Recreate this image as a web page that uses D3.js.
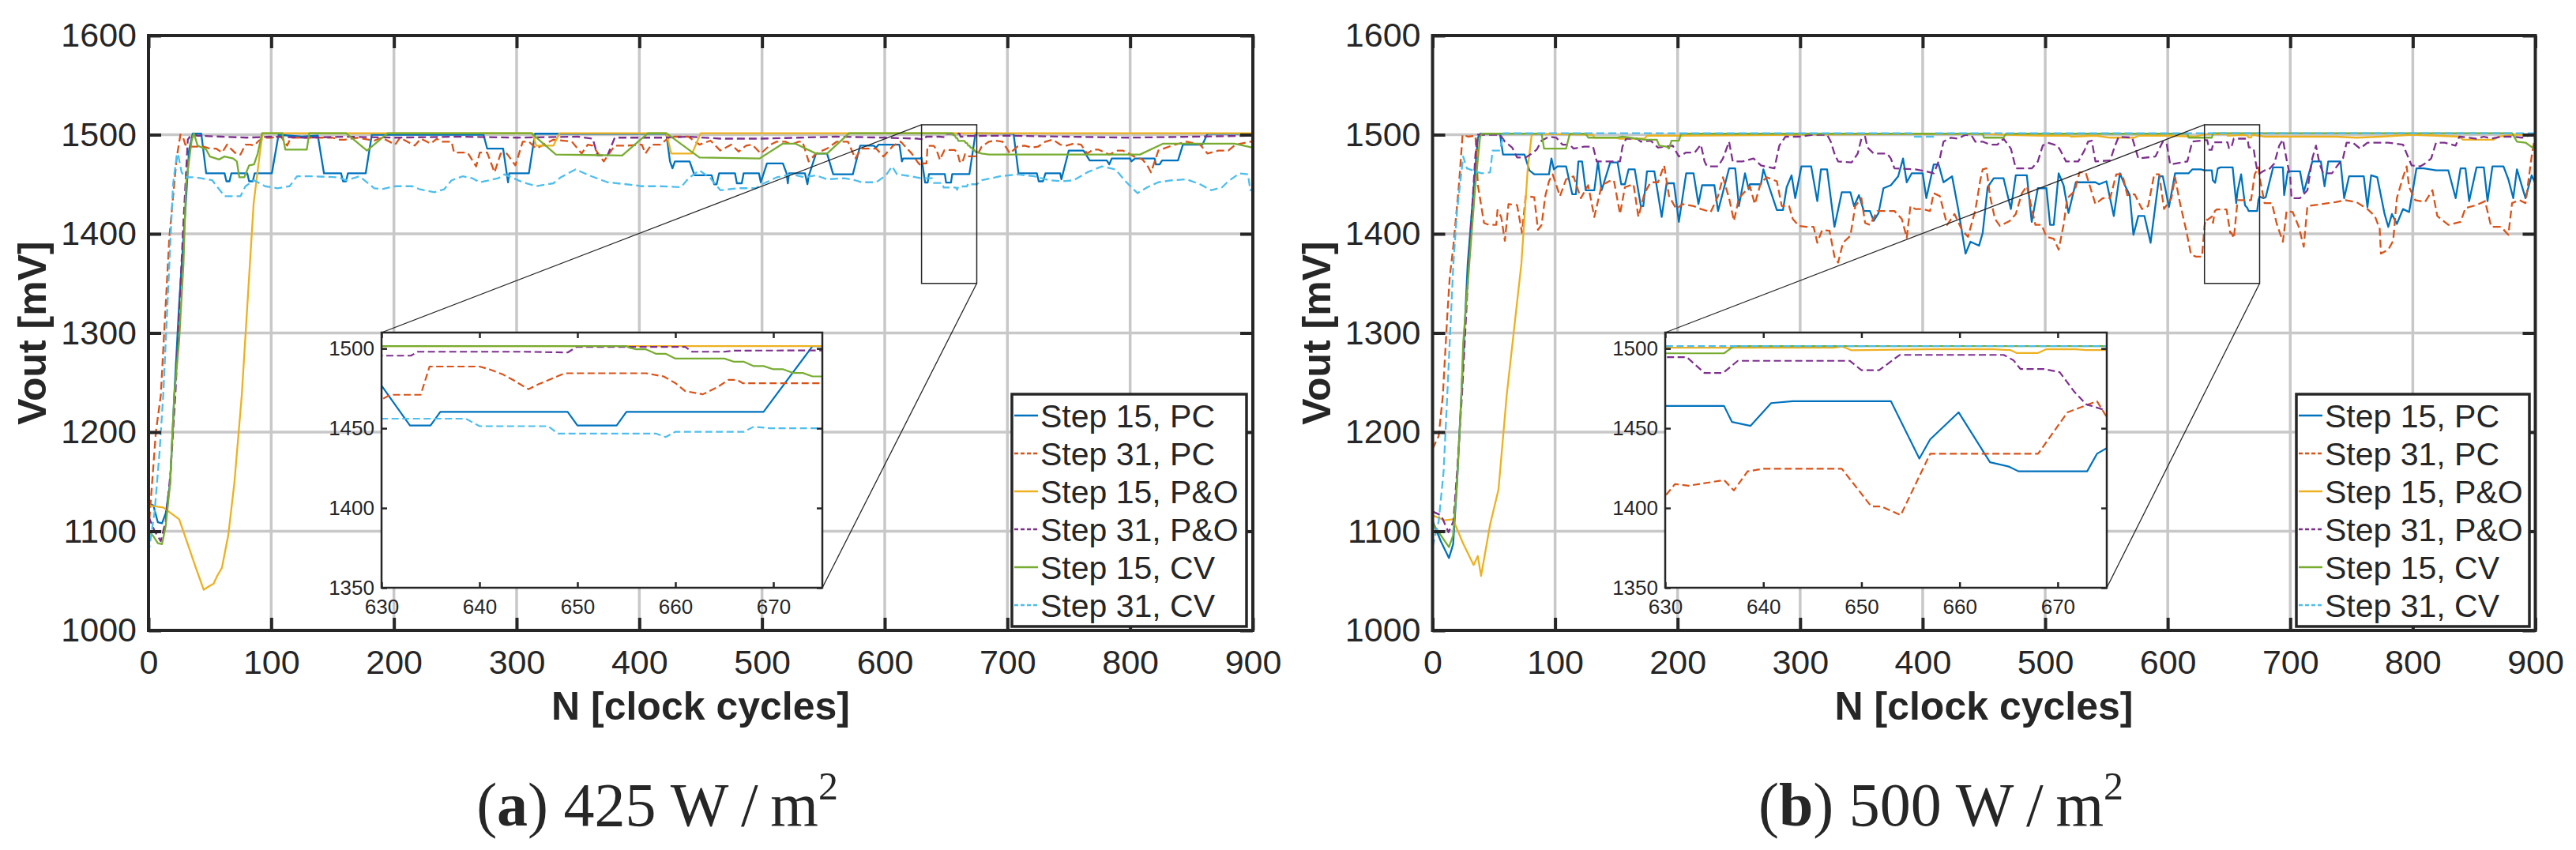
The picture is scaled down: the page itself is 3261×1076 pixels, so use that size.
<!DOCTYPE html>
<html>
<head>
<meta charset="utf-8">
<script src="https://cdn.jsdelivr.net/npm/d3@7"></script>
<style>
  body { margin: 0; background: #fff; }
  svg text { font-family: "Liberation Sans", Arial, Helvetica, sans-serif; fill: #262626; }
</style>
</head>
<body>
<svg id="fig" width="3261" height="1076"></svg>
<script>
// ---- data: [N clock cycles, Vout mV] ----

// (a) 425 W/m2
var pc15a = [[0,1128],[4,1126],[7.6,1109],[11,1108],[14,1118],[17.6,1148],[21,1237],[25,1330],[30,1423],[33,1484],[36,1501],[43,1501],[47,1461],[62,1461],[63.5,1453],[66,1453],[67.5,1461],[80.5,1461],[82,1453],[85,1453],[86.5,1461],[100.5,1461],[106,1500],[115,1499],[125,1498],[138,1499],[143,1461],[157,1461],[158.5,1453],[161,1453],[162.5,1461],[177,1461],[182,1500],[273,1500],[276,1486],[289,1486],[293,1452],[294,1461],[310,1461],[315,1501],[422,1501],[425,1473],[427,1466],[429,1473],[441,1473],[445,1459],[459,1459],[461,1450],[463,1450],[465,1461],[478,1461],[479.5,1451],[483.5,1451],[485,1461],[497.5,1461],[499,1452],[504,1471],[517,1471],[520,1461],[521,1451],[522,1461],[535,1461],[537,1450],[538,1458],[544,1481],[553,1481],[558,1460],[574,1460],[580,1489],[591,1489],[593,1487],[595,1490],[612,1490],[614,1473],[615,1476],[629,1476],[630,1476.7],[632.9,1451.7],[635,1451.7],[636,1460.3],[649,1460.3],[650,1451.7],[654,1451.7],[655,1460.3],[669,1460.3],[674,1501.5],[705,1501],[709,1461],[724,1461],[725.5,1453],[729,1453],[731,1461],[743,1461],[744,1455],[750,1484],[762,1484],[767,1474],[781,1474],[783,1470],[785,1476],[800,1476],[801,1473],[804,1476],[820,1476],[821,1470],[824,1470],[826,1474],[839,1474],[843,1490],[859,1490],[863,1501],[900,1501]];
var pc31a = [[0,1100],[3,1150],[6,1200],[10,1237],[17,1397],[23,1477],[26,1500],[28,1498],[30,1490],[35,1488],[45,1488],[50,1486],[55,1486],[60,1482],[64,1490],[67,1486],[72,1480],[75,1480],[79,1490],[83,1490],[86,1489],[90,1494],[95,1497],[100,1497],[108,1498],[113,1489],[116,1497],[130,1497],[150,1497],[155,1495],[160,1495],[170,1497],[184,1494],[190,1497],[201,1490],[205,1497],[217,1489],[222,1496],[230,1491],[235,1496],[238,1493],[247,1493],[249,1482],[260,1482],[267,1468],[270,1482],[276,1482],[282,1462],[287,1481],[292,1481],[299,1469],[305,1493],[310,1493],[316,1486],[322,1490],[330,1495],[338,1494],[345,1493],[353,1481],[358,1490],[362,1489],[371,1473],[376,1482],[380,1489],[390,1489],[402,1490],[405,1481],[410,1490],[417,1490],[425,1498],[440,1498],[449,1490],[458,1494],[466,1484],[475,1490],[481,1483],[487,1489],[492,1490],[499,1481],[507,1490],[512,1493],[519,1493],[524,1490],[530,1493],[533,1493],[538,1473],[544,1481],[553,1486],[561,1493],[570,1493],[576,1476],[581,1486],[593,1486],[599,1478],[607,1489],[613,1493],[622,1481],[627,1472],[630,1468],[630.9,1471],[634,1471],[634.9,1488.7],[640,1488.7],[641,1487],[642.4,1483.7],[643.5,1480],[645,1474.5],[646,1477.5],[647.6,1481.7],[648.7,1484.5],[657,1484.5],[658.8,1482.5],[660,1478.3],[661,1473.3],[662.8,1471.3],[664.3,1475.8],[665.4,1480.3],[666.3,1480.3],[666.9,1478.2],[675,1478.2],[679,1488],[685,1493],[690,1494],[696,1493],[702,1481],[708,1488],[714,1489],[720,1487],[725,1488],[731,1493],[737,1495],[743,1490],[748,1489],[754,1491],[760,1490],[765,1481],[770,1485],[774,1485],[783,1480],[790,1484],[794,1484],[799,1481],[803,1478],[810,1475],[814,1469],[817,1462],[823,1484],[834,1489],[846,1493],[857,1490],[863,1481],[872,1484],[880,1484],[886,1490],[898,1493],[900,1493]];
var po15a = [[0,1126],[12,1124],[25,1112],[32,1087],[38.6,1063],[45,1041],[50,1045],[53,1047],[56,1055],[59.8,1063],[65,1096],[70,1149],[76,1237],[85.7,1431],[90.8,1482],[93,1501.5],[313,1501.5],[316,1489],[330,1489],[335,1501.5],[422,1501.5],[426,1481],[443,1481],[450,1501.5],[900,1501.5]];
var po31a = [[0,1115],[5,1100],[10,1090],[14,1110],[18,1160],[22,1240],[28,1400],[32,1495],[35,1500],[40,1499],[60,1498],[80,1497],[100,1498],[130,1497],[160,1498],[200,1497],[250,1498],[300,1497],[350,1498],[362,1496],[366,1479],[374,1479],[380,1497],[420,1497],[440,1498],[466,1496],[499,1496],[530,1497],[560,1498],[600,1497],[627,1496],[630,1495.5],[633,1495.5],[633.7,1498],[644.4,1498],[649,1497.5],[649.9,1501],[661,1501],[661.7,1498],[665,1498],[666,1498.7],[700,1499],[750,1498],[800,1497],[850,1498],[900,1499]];
var cv15a = [[0,1100],[4,1095],[7.6,1088],[11,1087],[14,1105],[17.6,1148],[21,1237],[25,1293],[28.5,1370],[30.6,1450],[35,1493],[37,1501.5],[40,1489],[47,1485],[50,1478],[57.5,1475],[62,1478],[69,1476],[72,1473],[74,1457],[78,1457],[82,1469],[86,1470],[89,1481],[92.5,1501.5],[109,1501.5],[111.5,1485],[129,1485],[131,1501.5],[161,1501.5],[178,1484],[195,1501.5],[312,1501.5],[332,1480],[386,1479],[407,1501.5],[422,1501.5],[449,1477],[498,1476],[517,1491],[527,1491],[544,1481],[553,1481],[571,1501.5],[655,1501.5],[655.3,1500.5],[656,1499.5],[657,1499.5],[658,1496.7],[659,1496.7],[660,1493.7],[665,1493.7],[666,1491.7],[667,1491.7],[668,1489],[669,1489],[670,1487],[671,1487],[672,1484.7],[673,1484.7],[674,1482.5],[675,1482.5],[679,1481],[685,1480],[808,1480],[827,1491],[885,1491],[900,1487]];
var cv31a = [[0,1078],[5,1120],[9,1180],[12,1237],[17,1370],[20,1450],[23,1479],[24,1481],[27,1462],[30,1457],[38,1457],[43,1456],[52,1454],[55,1449],[62,1438],[75,1438],[79,1448],[86,1454],[95,1448],[105,1446],[115,1448],[121,1458],[135,1458],[155,1457],[161,1454],[172,1458],[184,1446],[190,1445],[201,1448],[215,1448],[221,1445],[233,1442],[241,1445],[247,1454],[256,1458],[264,1456],[270,1452],[285,1456],[290,1460],[305,1452],[316,1448],[330,1451],[336,1457],[348,1465],[359,1459],[374,1452],[397,1449],[402,1448],[417,1448],[434,1447],[440,1456],[449,1464],[458,1456],[466,1444],[481,1446],[495,1446],[500,1450],[512,1457],[524,1460],[535,1457],[544,1459],[553,1455],[567,1456],[576,1454],[581,1452],[593,1452],[601,1459],[606,1468],[610,1460],[622,1458],[630,1456],[638.6,1456],[640,1451.3],[647,1451.3],[648,1446.7],[658,1446.7],[659,1444.5],[660,1447.8],[667,1447.8],[668,1451],[669.7,1450],[675,1450],[679,1454],[694,1458],[708,1460],[722,1458],[734,1454],[745,1453],[754,1454],[765,1462],[777,1468],[788,1465],[797,1452],[806,1441],[814,1447],[823,1452],[834,1454],[846,1455],[857,1450],[866,1444],[875,1447],[880,1453],[889,1461],[896,1460],[898,1444],[900,1446]];

// (b) 500 W/m2
var pc15b = [[0,1110.5],[6.7,1090],[13.4,1073],[16.8,1087],[20,1149],[23.5,1237],[28.7,1370],[33.8,1450],[37,1497],[39,1501],[55,1501],[57.5,1480],[75,1480],[79,1464],[83,1460],[95,1460],[97,1476],[99,1465],[102,1468],[109,1468],[114,1440],[117,1440],[119,1473],[122,1473],[125,1444],[132,1444],[135,1473],[138,1444],[145,1472],[151,1472],[154,1450],[157,1450],[160,1465],[165,1465],[170,1428],[172,1428],[175,1463],[181,1463],[187,1417],[191,1451],[197,1451],[201,1412],[207,1461],[213,1461],[217,1430],[220,1449],[230,1449],[233,1423],[242,1466],[247,1466],[250,1428],[255,1461],[258,1445],[259,1450],[268,1450],[270,1465],[274,1450],[281,1424],[286,1424],[289,1447],[293,1459],[296,1436],[301,1468],[309,1468],[314,1433],[317,1465],[322,1465],[328,1407],[334,1442],[341,1442],[344,1428],[348,1439],[352,1423],[357,1423],[360,1413],[364,1421],[368,1446],[374,1449],[380,1458],[384,1476],[387,1452],[391,1461],[400,1461],[403,1436],[409,1470],[413,1470],[417,1452],[424,1458],[429,1425],[435,1380],[439,1392],[446,1388],[449,1401],[451,1424],[453,1447],[458,1456],[466,1456],[472,1425],[476,1459],[485,1459],[489,1412],[494,1446],[501,1446],[504,1409],[507,1409],[511,1461],[515,1449],[519,1421],[525,1452],[541,1452],[544,1450],[550,1453],[556,1418],[561,1461],[565,1449],[569,1439],[572,1399],[576,1418],[581,1418],[586,1391],[593,1458],[596,1458],[601,1427],[606,1461],[617,1461],[620,1465],[627,1465],[630,1464],[636,1464],[636.8,1454],[638.7,1451.5],[640.8,1465.8],[643,1467],[653,1467],[655.9,1431],[657,1443],[659.9,1460],[663.1,1428.7],[665,1426],[666,1423],[673,1423],[674,1434],[675,1437.6],[678,1436],[680,1437],[686,1467],[694,1467],[695,1439],[698,1463],[708,1463],[711,1442],[718,1473],[725,1473],[728,1448],[731,1473],[741,1473],[744,1436],[748,1458],[760,1458],[763,1427],[766,1459],[771,1457],[777,1420],[780,1407],[783,1420],[787,1410],[792,1425],[797,1422],[803,1466],[809,1466],[819,1464],[829,1464],[835,1436],[839,1466],[843,1466],[846,1433],[852,1467],[858,1467],[861,1433],[865,1468],[874,1468],[878,1455],[882,1436],[885,1465],[892,1436],[897,1459],[900,1451]];
var pc31b = [[0,1183],[5,1196],[8.4,1237],[12,1317],[14,1356],[17,1388],[21.5,1449],[24.5,1500],[29,1498],[35,1499],[37,1449],[42,1411],[46,1409],[52,1409],[53,1424],[56,1417],[59,1393],[62,1430],[69,1429],[73,1401],[76,1438],[83,1437],[86,1404],[89,1409],[92,1438],[95,1453],[98,1460],[104,1438],[109,1455],[115,1458],[121,1436],[127,1449],[132,1417],[138,1449],[144,1453],[148,1454],[153,1420],[157,1447],[164,1450],[168,1417],[173,1441],[178,1452],[184,1452],[189,1469],[193,1438],[199,1425],[204,1430],[213,1428],[219,1425],[227,1422],[233,1438],[237,1457],[242,1436],[246,1413],[250,1436],[259,1448],[263,1430],[268,1452],[273,1457],[281,1453],[285,1428],[291,1428],[294,1415],[299,1408],[305,1407],[311,1407],[314,1391],[318,1404],[324,1403],[328,1377],[331,1371],[335,1391],[341,1398],[345,1428],[350,1436],[353,1411],[357,1409],[363,1423],[368,1423],[377,1423],[383,1415],[387,1396],[390,1428],[394,1425],[400,1425],[406,1423],[409,1441],[414,1438],[420,1409],[426,1420],[432,1404],[437,1397],[443,1424],[447,1454],[449,1465],[452,1466],[455,1438],[459,1415],[463,1408],[471,1413],[476,1420],[481,1441],[485,1448],[492,1409],[497,1409],[501,1397],[507,1395],[511,1384],[515,1409],[518,1436],[524,1443],[528,1462],[533,1462],[537,1446],[541,1430],[547,1436],[553,1436],[558,1460],[563,1460],[567,1439],[573,1440],[579,1425],[584,1428],[589,1460],[593,1460],[597,1425],[603,1436],[606,1457],[610,1431],[615,1404],[619,1379],[623,1377],[628,1377],[630,1407.5],[631,1415],[632.4,1414],[636,1417.5],[637,1411],[638.4,1423],[640,1424.6],[648,1424.6],[651,1401],[652,1401],[654,1395.5],[657,1434],[668,1434],[671,1460],[674,1467],[675,1457],[679,1431],[685,1431],[689,1410],[694,1392],[697,1423],[702,1422],[707,1407],[711,1387],[714,1428],[720,1429],[731,1431],[737,1432],[745,1434],[754,1432],[763,1425],[769,1418],[773,1405],[774,1380],[780,1384],[784,1393],[787,1436],[792,1457],[795,1468],[797,1447],[802,1434],[810,1432],[816,1444],[820,1418],[829,1409],[839,1412],[843,1426],[852,1429],[859,1433],[864,1407],[872,1407],[878,1399],[881,1431],[887,1434],[892,1431],[897,1478],[900,1500]];
var po15b = [[0,1116],[10,1111],[16.7,1112],[24.8,1088],[33.5,1066],[36.9,1075],[39.6,1055],[47,1107],[53.8,1142],[60.5,1237],[72.5,1370],[77.7,1466],[81,1501],[131,1500],[132,1497],[150,1497],[152,1496],[173,1496],[175,1499],[201,1499],[296,1500],[449,1501],[466,1500],[498,1499],[520,1499],[521,1498],[541,1499],[553,1497],[573,1497],[576,1499],[599,1499],[622,1498],[630,1500.5],[647.2,1500.5],[648,1501.3],[649,1498.9],[656.8,1499.5],[663.5,1499.5],[665.2,1499],[665.8,1497.2],[668,1497.2],[668.8,1499.5],[671.8,1499.5],[672.9,1499],[675,1499],[679,1498],[737,1498],[754,1497],[774,1498],[800,1500],[838,1498],[841,1495],[866,1495],[870,1498],[882,1500],[900,1500]];
var po31b = [[0,1120],[7,1116],[13,1099],[17,1110],[20,1160],[24,1237],[30,1380],[35,1480],[37,1500],[55,1500],[59,1493],[65,1487],[69,1477],[76,1477],[81,1481],[85,1485],[89,1494],[95,1498],[101,1497],[106,1490],[112,1490],[115,1486],[124,1488],[131,1488],[134,1473],[153,1473],[155,1488],[158,1496],[167,1496],[170,1493],[178,1494],[184,1487],[196,1489],[201,1478],[207,1482],[214,1482],[219,1490],[222,1473],[224,1468],[233,1468],[237,1476],[242,1493],[245,1473],[253,1473],[262,1476],[268,1469],[279,1466],[283,1489],[288,1498],[299,1498],[311,1500],[322,1500],[325,1493],[328,1481],[331,1473],[342,1472],[347,1481],[350,1496],[353,1498],[355,1487],[360,1481],[371,1481],[374,1476],[377,1466],[394,1465],[403,1463],[409,1461],[414,1476],[417,1493],[423,1497],[429,1496],[435,1500],[440,1499],[443,1493],[449,1493],[455,1490],[461,1490],[466,1496],[472,1486],[476,1466],[489,1466],[494,1473],[498,1489],[502,1492],[510,1489],[512,1485],[517,1473],[527,1473],[532,1484],[535,1493],[538,1494],[541,1473],[553,1474],[557,1489],[560,1498],[571,1497],[576,1476],[590,1478],[596,1493],[599,1492],[602,1470],[616,1473],[620,1493],[627,1494],[630,1494.6],[632.2,1494.6],[634,1484.7],[635.9,1484.7],[637.4,1492.3],[648.8,1492.3],[650,1486.4],[651.8,1486.4],[653.9,1496],[664.5,1496],[665.5,1492.6],[666.2,1487.2],[668.5,1487.2],[670.2,1485.2],[671,1478.6],[671.7,1472.8],[672.9,1465],[675,1461],[679,1464],[682,1464],[687,1471],[691,1489],[694,1495],[697,1475],[700,1457],[701,1436],[708,1436],[714,1444],[718,1476],[721,1489],[724,1470],[727,1461],[734,1461],[738,1468],[743,1476],[746,1492],[751,1492],[757,1486],[763,1492],[771,1492],[780,1492],[792,1490],[796,1478],[799,1469],[806,1468],[810,1471],[815,1476],[819,1492],[826,1492],[832,1490],[835,1489],[838,1498],[846,1497],[852,1496],[858,1498],[864,1496],[872,1498],[881,1498],[889,1497],[898,1500],[900,1500]];
var cv15b = [[0,1108],[6.7,1096],[13.4,1084],[16.8,1096],[20,1150],[23.5,1237],[25,1290],[30,1370],[35,1450],[38.7,1497],[40,1501],[89,1501],[91,1486],[109,1486],[112,1501],[125,1501],[127,1497],[150,1497],[155,1498],[173,1495],[183,1495],[185,1489],[191,1488],[193,1486],[195,1494],[201,1494],[203,1501],[449,1501],[450,1497],[466,1497],[468,1501],[616,1501],[617,1497],[636,1497],[637,1501.5],[881,1501.5],[885,1493],[892,1492],[900,1485]];
var cv31b = [[0,1084],[5,1110],[9,1160],[12,1237],[17,1370],[20,1423],[25,1478],[28,1466],[35,1463],[40,1461],[47,1462],[49,1484],[55,1484],[58,1501.5],[391,1501.5],[392,1498],[409,1498],[410,1501.5],[900,1501.5]];

var seriesA = [pc15a, pc31a, po15a, po31a, cv15a, cv31a];
var seriesB = [pc15b, pc31b, po15b, po31b, cv15b, cv31b];

var legendLabels = ["Step 15, PC", "Step 31, PC", "Step 15, P&O", "Step 31, P&O", "Step 15, CV", "Step 31, CV"];
var xTicks = [0, 100, 200, 300, 400, 500, 600, 700, 800, 900];
var yTicks = [1000, 1100, 1200, 1300, 1400, 1500, 1600];
var insetXTicks = [630, 640, 650, 660, 670];
var insetYTicks = [1350, 1400, 1450, 1500];
var xDomain = [0, 900], yDomain = [1000, 1600];
var zoomX = [630, 675], zoomY = [1350, 1510];

// styles
var colors = ["#0072BD", "#D95319", "#EDB120", "#7E2F8E", "#77AC30", "#4DBEEE"];
var dashed = [false, true, false, true, false, true];
var ink = "#262626", gridColor = "#c8c8c8";

var svg = d3.select("#fig");
var defs = svg.append("defs");

var panels = [
  {id: "a", left: 188, right: 1586, series: seriesA,
   inset: {left: 483, right: 1041}, legend: {left: 1281, right: 1578},
   capCenter: 832, capLetter: "a", capValue: "425"},
  {id: "b", left: 1813.5, right: 3209.5, series: seriesB,
   inset: {left: 2108, right: 2667}, legend: {left: 2907, right: 3202},
   capCenter: 2457, capLetter: "b", capValue: "500"}
];

var plotTop = 45, plotBottom = 798;
var insetTop = 421, insetBottom = 744;
var legendTop = 499, legendBottom = 793;
var fmt = d3.format("d");

function styleAxis(g, size) {
  g.attr("font-family", null).attr("font-size", null);
  g.select(".domain").remove();
  g.selectAll(".tick line").attr("stroke", ink);
  g.selectAll(".tick text").attr("fill", ink).style("font-size", size + "px");
}

function drawLines(g, series, x, y, width, dash) {
  var line = d3.line().x(function (d) { return x(d[0]); }).y(function (d) { return y(d[1]); });
  g.selectAll("path.series")
    .data(series)
    .join("path")
    .attr("class", "series")
    .attr("d", line)
    .attr("fill", "none")
    .attr("stroke", function (d, i) { return colors[i]; })
    .attr("stroke-width", width)
    .attr("stroke-linejoin", "round")
    .attr("stroke-dasharray", function (d, i) { return dashed[i] ? dash : null; });
}

panels.forEach(function (p) {
  var x = d3.scaleLinear().domain(xDomain).range([p.left, p.right]);
  var y = d3.scaleLinear().domain(yDomain).range([plotBottom, plotTop]);
  var g = svg.append("g").attr("class", "panel-" + p.id);

  defs.append("clipPath").attr("id", "clip-" + p.id)
    .append("rect")
    .attr("x", p.left).attr("y", plotTop)
    .attr("width", p.right - p.left).attr("height", plotBottom - plotTop);

  // grid
  var grid = g.append("g").attr("stroke", gridColor).attr("stroke-width", 3.5);
  grid.selectAll("line.gx").data(xTicks.slice(1, -1)).join("line")
    .attr("class", "gx")
    .attr("x1", function (d) { return x(d); }).attr("x2", function (d) { return x(d); })
    .attr("y1", plotTop).attr("y2", plotBottom);
  grid.selectAll("line.gy").data(yTicks.slice(1, -1)).join("line")
    .attr("class", "gy")
    .attr("x1", p.left).attr("x2", p.right)
    .attr("y1", function (d) { return y(d); }).attr("y2", function (d) { return y(d); });

  // data
  var main = g.append("g").attr("clip-path", "url(#clip-" + p.id + ")");
  drawLines(main, p.series, x, y, 2.3, "10,5");

  // axes
  var ax = g.append("g").attr("transform", "translate(0," + plotBottom + ")")
    .call(d3.axisBottom(x).tickValues(xTicks).tickFormat(fmt).tickSizeInner(-16).tickSizeOuter(0).tickPadding(24));
  styleAxis(ax, 43);
  var axTop = g.append("g").attr("transform", "translate(0," + plotTop + ")")
    .call(d3.axisTop(x).tickValues(xTicks).tickSizeInner(-16).tickSizeOuter(0).tickFormat(""));
  styleAxis(axTop, 43);
  var ay = g.append("g").attr("transform", "translate(" + p.left + ",0)")
    .call(d3.axisLeft(y).tickValues(yTicks).tickFormat(fmt).tickSizeInner(-16).tickSizeOuter(0).tickPadding(15));
  styleAxis(ay, 43);
  var ayR = g.append("g").attr("transform", "translate(" + p.right + ",0)")
    .call(d3.axisRight(y).tickValues(yTicks).tickSizeInner(-16).tickSizeOuter(0).tickFormat(""));
  styleAxis(ayR, 43);
  g.selectAll(".tick line").attr("stroke-width", 4);

  g.append("rect")
    .attr("x", p.left).attr("y", plotTop)
    .attr("width", p.right - p.left).attr("height", plotBottom - plotTop)
    .attr("fill", "none").attr("stroke", ink).attr("stroke-width", 4);

  // axis labels
  g.append("text")
    .attr("x", (p.left + p.right) / 2).attr("y", 911)
    .attr("text-anchor", "middle")
    .style("font-size", "50px").style("font-weight", "bold")
    .text("N [clock cycles]");
  g.append("text")
    .attr("transform", "translate(" + (p.left - 130) + "," + ((plotTop + plotBottom) / 2) + ") rotate(-90)")
    .attr("text-anchor", "middle")
    .style("font-size", "50px").style("font-weight", "bold")
    .text("Vout [mV]");

  // zoom box and connectors
  var zx0 = x(zoomX[0]), zx1 = x(zoomX[1]), zy0 = y(zoomY[1]), zy1 = y(zoomY[0]);
  g.append("rect")
    .attr("x", zx0).attr("y", zy0).attr("width", zx1 - zx0).attr("height", zy1 - zy0)
    .attr("fill", "none").attr("stroke", ink).attr("stroke-width", 1.5);
  g.append("line")
    .attr("x1", p.inset.left).attr("y1", insetTop).attr("x2", zx0).attr("y2", zy0)
    .attr("stroke", ink).attr("stroke-width", 1.3);
  g.append("line")
    .attr("x1", p.inset.right).attr("y1", insetBottom).attr("x2", zx1).attr("y2", zy1)
    .attr("stroke", ink).attr("stroke-width", 1.3);

  // inset
  var ix = d3.scaleLinear().domain(zoomX).range([p.inset.left, p.inset.right]);
  var iy = d3.scaleLinear().domain(zoomY).range([insetBottom, insetTop]);
  var ig = g.append("g").attr("class", "inset");
  ig.append("rect")
    .attr("x", p.inset.left).attr("y", insetTop)
    .attr("width", p.inset.right - p.inset.left).attr("height", insetBottom - insetTop)
    .attr("fill", "#fff");
  defs.append("clipPath").attr("id", "iclip-" + p.id)
    .append("rect")
    .attr("x", p.inset.left).attr("y", insetTop)
    .attr("width", p.inset.right - p.inset.left).attr("height", insetBottom - insetTop);
  var il = ig.append("g").attr("clip-path", "url(#iclip-" + p.id + ")");
  drawLines(il, p.series, ix, iy, 2.2, "9,4.5");

  var iax = ig.append("g").attr("transform", "translate(0," + insetBottom + ")")
    .call(d3.axisBottom(ix).tickValues(insetXTicks).tickFormat(fmt).tickSizeInner(-7).tickSizeOuter(0).tickPadding(15));
  styleAxis(iax, 26);
  var iaxT = ig.append("g").attr("transform", "translate(0," + insetTop + ")")
    .call(d3.axisTop(ix).tickValues(insetXTicks).tickSizeInner(-7).tickSizeOuter(0).tickFormat(""));
  styleAxis(iaxT, 26);
  var iay = ig.append("g").attr("transform", "translate(" + p.inset.left + ",0)")
    .call(d3.axisLeft(iy).tickValues(insetYTicks).tickFormat(fmt).tickSizeInner(-7).tickSizeOuter(0).tickPadding(9));
  styleAxis(iay, 26);
  var iayR = ig.append("g").attr("transform", "translate(" + p.inset.right + ",0)")
    .call(d3.axisRight(iy).tickValues(insetYTicks).tickSizeInner(-7).tickSizeOuter(0).tickFormat(""));
  styleAxis(iayR, 26);
  ig.selectAll(".tick line").attr("stroke-width", 2.5);
  ig.append("rect")
    .attr("x", p.inset.left).attr("y", insetTop)
    .attr("width", p.inset.right - p.inset.left).attr("height", insetBottom - insetTop)
    .attr("fill", "none").attr("stroke", ink).attr("stroke-width", 2.5);

  // legend
  var lg = g.append("g").attr("class", "legend");
  lg.append("rect")
    .attr("x", p.legend.left).attr("y", legendTop)
    .attr("width", p.legend.right - p.legend.left).attr("height", legendBottom - legendTop)
    .attr("fill", "#fff").attr("stroke", ink).attr("stroke-width", 3.5);
  var rowY = d3.scalePoint().domain(d3.range(legendLabels.length)).range([526, 766]);
  var rows = lg.selectAll("g.row").data(legendLabels).join("g")
    .attr("class", "row")
    .attr("transform", function (d, i) { return "translate(" + p.legend.left + "," + rowY(i) + ")"; });
  rows.append("line")
    .attr("x1", 3).attr("x2", 33).attr("y1", 0).attr("y2", 0)
    .attr("stroke", function (d, i) { return colors[i]; })
    .attr("stroke-width", 2.5)
    .attr("stroke-dasharray", function (d, i) { return dashed[i] ? "5,3" : null; });
  rows.append("text")
    .attr("x", 36).attr("dy", "0.36em")
    .style("font-size", "41px")
    .text(function (d) { return d; });

  // caption
  var cap = svg.append("text")
    .attr("x", p.capCenter).attr("y", 1045)
    .attr("text-anchor", "middle")
    .style("font-family", "'Liberation Serif', 'DejaVu Serif', serif")
    .style("font-size", "78px");
  cap.append("tspan").text("(");
  cap.append("tspan").style("font-weight", "bold").text(p.capLetter);
  cap.append("tspan").text(") " + p.capValue + " W\u2009/\u2009m");
  cap.append("tspan").attr("dy", -33).style("font-size", "50px").text("2");
});
</script>
</body>
</html>
